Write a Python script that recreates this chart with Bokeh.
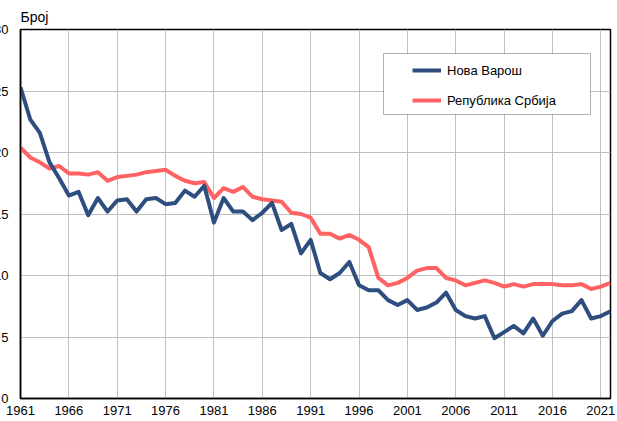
from bokeh.plotting import figure
from bokeh.models import (ColumnDataSource, FixedTicker, Legend, LegendItem,
                          BoxAnnotation, Range1d)
from bokeh.embed import file_html
from bokeh.resources import INLINE

# ---------------- data ----------------
years = list(range(1961, 2023))
nova_varos = [25.3, 22.7, 21.6, 19.2, 17.9, 16.5, 16.8, 14.9, 16.3, 15.2,
              16.1, 16.2, 15.2, 16.2, 16.3, 15.8, 15.9, 16.9, 16.4, 17.3,
              14.3, 16.3, 15.2, 15.2, 14.5, 15.1, 15.9, 13.7, 14.2, 11.8,
              12.9, 10.2, 9.7, 10.2, 11.1, 9.2, 8.8, 8.8, 8.0, 7.6,
              8.0, 7.2, 7.4, 7.8, 8.6, 7.2, 6.7, 6.5, 6.7, 4.9,
              5.4, 5.9, 5.3, 6.5, 5.1, 6.3, 6.9, 7.1, 8.0, 6.5,
              6.7, 7.1]
srbija = [20.4, 19.6, 19.2, 18.7, 18.9, 18.3, 18.3, 18.2, 18.4, 17.7,
          18.0, 18.1, 18.2, 18.4, 18.5, 18.6, 18.1, 17.7, 17.5, 17.6,
          16.3, 17.1, 16.8, 17.2, 16.4, 16.2, 16.1, 16.0, 15.1, 15.0,
          14.7, 13.4, 13.4, 13.0, 13.3, 12.9, 12.3, 9.8, 9.2, 9.4,
          9.8, 10.4, 10.6, 10.6, 9.8, 9.6, 9.2, 9.4, 9.6, 9.4,
          9.1, 9.3, 9.1, 9.3, 9.3, 9.3, 9.2, 9.2, 9.3, 8.9,
          9.1, 9.4]
x_ticks = [1961, 1966, 1971, 1976, 1981, 1986, 1991, 1996, 2001, 2006, 2011, 2016, 2021]
y_ticks = [0, 5, 10, 15, 20, 25, 30]
series_names = ["Нова Варош", "Република Србија"]
y_label = "Број"

FONT = "Liberation Sans"
BLUE = "#2d4e7e"
RED = "#ff6262"

src = ColumnDataSource(data=dict(year=years, nv=nova_varos, rs=srbija))

p = figure(width=636, height=431, output_backend="svg", toolbar_location=None,
           x_range=Range1d(1961, 2022), y_range=Range1d(0, 30),
           min_border_left=40, min_border_right=6, min_border_top=40,
           min_border_bottom=22, title=y_label)
p.styles = {"margin-left": "-20px", "margin-top": "-11px", "margin-bottom": "-10px"}

p.title.text_font = FONT
p.title.text_font_size = "14px"
p.title.text_font_style = "normal"
p.title.text_color = "black"
p.title.align = "left"
p.title.standoff = 10
p.title.offset = 0

p.background_fill_color = "white"
p.border_fill_color = "white"
p.outline_line_color = "black"
p.outline_line_width = 1.5

for ax in (p.xaxis[0], p.yaxis[0]):
    ax.major_tick_out = 0
    ax.major_tick_in = 0
    ax.minor_tick_out = 0
    ax.minor_tick_in = 0
    ax.axis_line_color = "black"
    ax.axis_line_width = 1.5
    ax.major_label_text_font = FONT
    ax.major_label_text_font_size = "13px"
    ax.major_label_text_color = "black"

p.xaxis.ticker = FixedTicker(ticks=x_ticks)
p.yaxis.ticker = FixedTicker(ticks=y_ticks)
p.xaxis.major_label_standoff = 7
p.yaxis.major_label_standoff = 12

p.xgrid.ticker = FixedTicker(ticks=x_ticks)
p.ygrid.ticker = FixedTicker(ticks=y_ticks)
p.grid.grid_line_color = "#c0c0c0"
p.grid.grid_line_width = 1

r_rs = p.line("year", "rs", source=src, line_color=RED, line_width=4, line_join="round")
r_nv = p.line("year", "nv", source=src, line_color=BLUE, line_width=4, line_join="round")

box = BoxAnnotation(left=363, right=570, bottom=284, top=345,
                    left_units="screen", right_units="screen",
                    top_units="screen", bottom_units="screen",
                    fill_color="white", fill_alpha=1.0,
                    line_color="black", line_width=1)
p.add_layout(box)

legend = Legend(items=[LegendItem(label=series_names[0], renderers=[r_nv]),
                       LegendItem(label=series_names[1], renderers=[r_rs])],
                location=(392, 290), padding=0, margin=0, spacing=14,
                glyph_width=29, glyph_height=16, label_height=16,
                label_standoff=6, border_line_alpha=0,
                background_fill_alpha=0,
                label_text_font=FONT, label_text_font_size="13px",
                label_text_color="black")
p.add_layout(legend)

open("out.html", "w").write(file_html(p, INLINE))
